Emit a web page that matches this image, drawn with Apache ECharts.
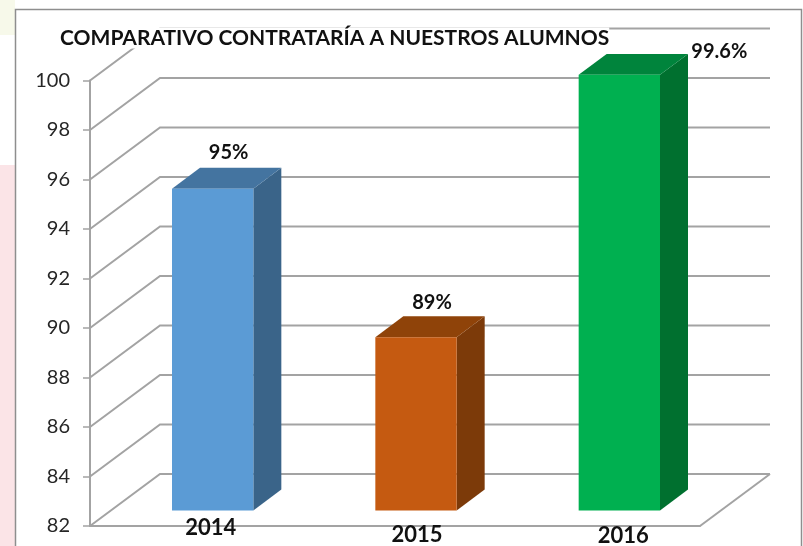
<!DOCTYPE html>
<html><head><meta charset="utf-8">
<style>html,body{margin:0;padding:0;background:#fff}#c{width:803px;height:546px}</style>
<script src="https://cdn.jsdelivr.net/npm/echarts@6/dist/echarts.min.js"></script>
</head><body><div id="c"></div>
<script>
const titleText = 'COMPARATIVO CONTRATARÍA A NUESTROS ALUMNOS';
const categories = ['2014', '2015', '2016'];
const values = [95, 89, 99.6];
const valueLabels = ['95%', '89%', '99.6%'];
const yMin = 82, yMax = 100, yStep = 2;
const yTicks = [82, 84, 86, 88, 90, 92, 94, 96, 98, 100];
const frontColors = ['#5b9bd5', '#c55a11', '#00b050'];
const topColors = ['#4474a0', '#8f4309', '#00843c'];
const sideColors = ['#3a6489', '#7c3a09', '#00702f'];

const DX = 70, DY = 52;            // depth of the 3D box
const GRID = '#a3a3a3';
const FONT = 'Lato, "Open Sans", sans-serif';
const LABEL_OFFSET = [[16, -15], [16, -14], [100, -2]];
const YEAR_PAD_TOP = [0, 7, 8], YEAR_PAD_LEFT = [38, 44, 50];
const yearLabels = categories.map((c, i) => ({
  value: c,
  textStyle: { padding: [YEAR_PAD_TOP[i], 0, 0, YEAR_PAD_LEFT[i]] }
}));

function renderGrid(params, api) {
  const v = api.value(1);
  const y = api.coord([0, v])[1];
  const r = params.coordSys;
  const x0 = r.x, x1 = r.x + r.width;
  const kids = [{
    type: 'polyline',
    shape: { points: [[x0, y], [x0 + DX, y - DY], [x1 + DX, y - DY]] },
    style: { fill: null, stroke: GRID, lineWidth: 2 }
  }];
  if (v === yMin) {
    kids.push({
      type: 'line',
      shape: { x1: x1, y1: y, x2: x1 + DX, y2: y - DY },
      style: { stroke: GRID, lineWidth: 2 }
    });
  }
  return { type: 'group', children: kids };
}

function renderBar(params, api) {
  const i = api.value(0), v = api.value(1);
  const band = api.size([1, 0])[0];
  const w = band * 0.4, sx = DX * 0.3, sy = DY * 0.3, bx = DX * 0.4, by = DY * 0.4;
  const c = api.coord([i, v]), b = api.coord([i, yMin]);
  const l = c[0] - w / 2 + sx, r = l + w, t = c[1] - sy, bot = b[1] - sy;
  const off = LABEL_OFFSET[i];
  return {
    type: 'group',
    children: [
      { type: 'polygon', shape: { points: [[r, t], [r + bx, t - by], [r + bx, bot - by], [r, bot]] }, style: { fill: sideColors[i] } },
      { type: 'polygon', shape: { points: [[l, t], [l + bx, t - by], [r + bx, t - by], [r, t]] }, style: { fill: topColors[i] } },
      { type: 'rect', shape: { x: l, y: t, width: w, height: bot - t }, style: { fill: frontColors[i] } },
      { type: 'text', style: {
          x: (l + r) / 2 + off[0], y: t - by + off[1], text: valueLabels[i],
          fill: '#111', font: 'bold 20px ' + FONT, align: 'center', verticalAlign: 'middle' } }
    ]
  };
}

const chart = echarts.init(document.getElementById('c'), null, { renderer: 'canvas' });
chart.setOption({
  animation: false,
  backgroundColor: '#fff',
  graphic: [
    { type: 'rect', z: -10, shape: { x: 0, y: 0, width: 15, height: 35 }, style: { fill: '#f7f9ea' } },
    { type: 'rect', z: -10, shape: { x: 0, y: 165, width: 15, height: 381 }, style: { fill: '#fbe4e7' } },
    { type: 'rect', z: -9, shape: { x: 15.5, y: 9.5, width: 786, height: 540 }, style: { fill: '#fff', stroke: '#8e8e8e', lineWidth: 1.5 } }
  ],
  title: {
    text: titleText, left: 60, top: 28, padding: [0, 0, 0, 0],
    backgroundColor: '#fff',
    textStyle: { fontFamily: FONT, fontWeight: 'bold', fontSize: 21, color: '#111', lineHeight: 20 }
  },
  grid: { left: 90, right: 103, top: 80.5, bottom: 20, outerBoundsMode: 'none' },
  xAxis: {
    type: 'category', data: yearLabels,
    axisLine: { lineStyle: { color: GRID, width: 2 } },
    axisTick: { show: false },
    axisLabel: { margin: -9, fontFamily: FONT, fontWeight: 'bold', fontSize: 22, color: '#111', interval: 0, hideOverlap: false }
  },
  yAxis: {
    type: 'value', min: yMin, max: yMax, interval: yStep,
    axisLine: { show: true, lineStyle: { color: GRID, width: 2 } },
    axisTick: { show: true, length: 7, lineStyle: { color: GRID, width: 1.5 } },
    axisLabel: { margin: 20, fontFamily: FONT, fontSize: 20, color: '#262626' },
    splitLine: { show: false }
  },
  series: [
    { type: 'custom', z: 1, silent: true, renderItem: renderGrid, encode: { x: 0, y: 1 }, data: yTicks.map(t => [0, t]) },
    { type: 'custom', z: 3, silent: true, renderItem: renderBar, encode: { x: 0, y: 1 }, data: values.map((v, i) => [i, v]) }
  ]
});
</script></body></html>
